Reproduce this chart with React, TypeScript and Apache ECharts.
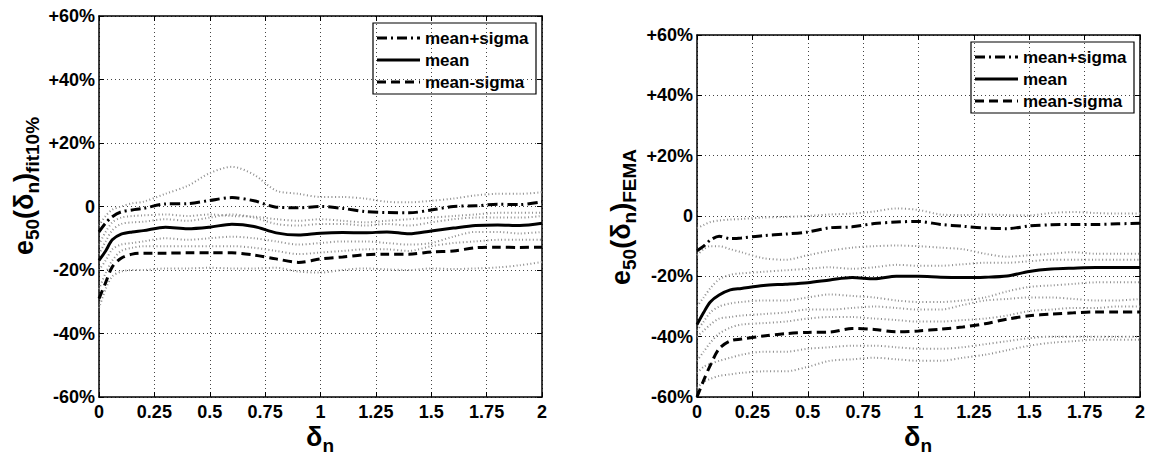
import React, { useEffect, useRef } from "react";
import * as echarts from "echarts";

const X = [0, 0.03, 0.06, 0.1, 0.15, 0.2, 0.3, 0.4, 0.5, 0.6, 0.7, 0.8, 0.9, 1.0, 1.1, 1.2, 1.3, 1.4, 1.5, 1.6, 1.7, 1.8, 1.9, 2.0];

// Left chart: e50(δn) fit10%
const fitMeanPlus = [-8, -5.2, -3.2, -1.7, -1.1, -0.6, 0.8, 0.9, 1.9, 2.8, 1.8, -0.2, -0.4, 0, -0.6, -1.6, -1.9, -2.0, -1.1, 0, 0.2, 0.7, 0.6, 1.5];
const fitMean = [-17, -14, -10.5, -8.7, -8.0, -7.6, -6.5, -7.0, -6.5, -5.6, -6.3, -8.3, -9.0, -8.4, -8.2, -8.3, -8.0, -8.6, -7.7, -6.8, -6.0, -5.8, -6.0, -5.3];
const fitMeanMinus = [-29, -24, -19, -16.3, -15, -14.7, -14.7, -14.6, -14.6, -14.6, -15.3, -16.5, -17.6, -16.5, -15.9, -15.2, -15.0, -15.0, -14.3, -14.0, -13.0, -12.8, -12.9, -12.8];
const fitGray1 = [-6, -3, -1, 0, 1, 1.5, 4, 6.5, 10.5, 12.5, 10, 5, 4, 3, 3, 2.5, 1.5, 1.3, 1.8, 2.5, 3.5, 4, 4, 4.5];
const fitGray2 = [-12, -8, -5, -3.5, -3, -2.8, -2.5, -3, -2.5, -3, -3.2, -4, -4.5, -4, -4.5, -5, -4.5, -4, -3.5, -3, -2.5, -2, -2, -2];
const fitGray3 = [-15, -11, -7.5, -5.5, -5, -4.8, -4, -4.5, -3.5, -2.5, -3.5, -5.5, -6, -5.5, -5.5, -6, -5.5, -6, -5, -4, -3.5, -3.5, -3.5, -3];
const fitGray4 = [-20, -17, -13.5, -12, -11.5, -11, -10, -10.5, -10, -9.5, -10, -11, -12, -11.5, -11, -11, -11.5, -12, -11.5, -9.5, -8, -8, -8.5, -8];
const fitGray5 = [-26, -21, -17, -14, -13, -12.5, -12.5, -12.5, -12.5, -12.5, -13, -14, -15, -14.5, -14, -13.5, -13.5, -14, -12.5, -11.5, -11, -10.5, -10.5, -10.5];
const fitGray6 = [-32, -26, -22, -20.5, -20, -20, -19.5, -19.5, -19.3, -19.5, -19.5, -19.3, -20.5, -20.8, -20, -19.5, -19.8, -20, -19.5, -19.7, -19.5, -19.2, -18.5, -17.5];

// Right chart: e50(δn) FEMA
const femaMeanPlus = [-11.5, -10, -8, -6.7, -7.5, -7.3, -6.5, -6.0, -5.3, -3.9, -3.6, -2.5, -2.0, -1.8, -2.8, -3.4, -4.0, -4.2, -3.3, -2.9, -2.8, -2.8, -2.6, -2.4];
const femaMean = [-36, -32, -28.5, -26.2, -24.5, -24, -23, -22.6, -22.1, -21.2, -20.4, -20.8, -20.0, -20.0, -20.3, -20.4, -20.3, -19.9, -18.4, -17.6, -17.3, -17.1, -17.1, -17.1];
const femaMeanMinus = [-60, -54.5, -49.5, -44, -41.4, -40.8, -39.8, -39.0, -38.6, -38.5, -37.3, -37.6, -38.4, -38.1, -37.5, -36.8, -35.7, -34.2, -33.1, -32.5, -32.1, -31.8, -31.8, -31.8];
const femaGray1 = [-4, -3, -2, -1.5, -1.2, -1, -0.5, -0.3, 0, 0.5, 0.8, 1.5, 2.5, 2, 0.5, 0.3, 0.5, 0.3, 0.2, 1, 1.3, 1, 0.8, 0.8];
const femaGray2 = [-13, -11, -10, -10, -11, -12, -14, -14.5, -13, -11.5, -10.5, -10, -9.8, -10, -10.5, -11, -12.5, -13.5, -13, -12.5, -12, -12.5, -12.5, -12.5];
const femaGray3 = [-30, -27, -24, -21, -19.5, -19, -18.5, -18, -17.5, -17, -17.5, -17, -16.2, -16.5, -16.5, -16, -15.5, -15.5, -15, -14.5, -14.5, -14.5, -14.5, -14.5];
const femaGray4 = [-38, -35, -32, -30, -29, -28.5, -28, -28, -27, -26, -26.5, -27, -28, -28.5, -28.5, -28, -27, -25, -23.5, -23, -22.5, -22, -22, -22];
const femaGray5 = [-40, -38, -36, -34, -33.5, -33, -32.5, -32, -31, -31, -30.5, -30, -30.5, -31, -31, -29.5, -28, -27.5, -27, -27, -27.5, -28, -28, -27.5];
const femaGray6 = [-52, -50, -49, -48, -47, -46, -45, -45, -44, -43.5, -43, -43, -43.5, -44, -44, -43.5, -42.5, -41.5, -40.5, -40, -40, -40, -40, -40];
const femaGray7 = [-57, -55, -54, -53, -52.5, -52, -51.5, -51.5, -50, -48, -47.5, -47, -47.5, -48, -48, -47, -46, -44.5, -43, -42, -41.5, -41, -41, -41];
const femaGray8 = [-48, -45, -42, -39, -37, -36, -35.5, -35, -34, -33.5, -33.5, -34, -34.5, -35, -35, -34.5, -34, -33, -31.5, -31, -30.5, -30.5, -30, -30];

const NAMES = ["mean+sigma", "mean", "mean-sigma"];
const FONT = "'Liberation Sans', Arial, Helvetica, sans-serif";
const DASHES: any[] = [[10, 4, 2, 4], "solid", [9, 5]];

const pair = (ys: number[]) => X.map((x, i) => [x, ys[i]]);

export default function App() {
  const ref = useRef<HTMLDivElement>(null);
  useEffect(() => {
    if (!ref.current) return;
    const chart = echarts.init(ref.current, undefined, { renderer: "svg" });
    const grids = [
      { left: 99, top: 16, width: 443, height: 381 },
      { left: 697, top: 35, width: 443, height: 362 },
    ];
    const yFmt = (v: number) => (v > 0 ? "+" + v + "%" : v === 0 ? "0" : v + "%");
    const axLine = { show: true, onZero: false, lineStyle: { color: "#000", width: 1.5 } };
    const axTick = { show: true, inside: true, length: 5, lineStyle: { color: "#000" } };
    const split = { show: true, lineStyle: { color: "#444", type: [1, 3], width: 1 } };
    const lbl = { color: "#000", fontSize: 18, fontWeight: "bold", fontFamily: FONT };
    const xAxes: any[] = [];
    const yAxes: any[] = [];
    grids.forEach((_, gi) => {
      xAxes.push({ type: "value", gridIndex: gi, min: 0, max: 2, interval: 0.25, position: "bottom",
        axisLine: axLine, axisTick: axTick, axisLabel: { ...lbl, margin: 8, lineHeight: 14 }, splitLine: split });
      xAxes.push({ type: "value", gridIndex: gi, min: 0, max: 2, interval: 0.25, position: "top",
        axisLine: axLine, axisTick: axTick, axisLabel: { show: false }, splitLine: { show: false } });
      yAxes.push({ type: "value", gridIndex: gi, min: -60, max: 60, interval: 20, position: "left",
        axisLine: axLine, axisTick: axTick, axisLabel: { ...lbl, margin: 4, formatter: yFmt }, splitLine: split });
      yAxes.push({ type: "value", gridIndex: gi, min: -60, max: 60, interval: 20, position: "right",
        axisLine: axLine, axisTick: axTick, axisLabel: { show: false }, splitLine: { show: false } });
    });

    const gray = (gi: number, ys: number[]) => ({
      type: "line", xAxisIndex: gi * 2, yAxisIndex: gi * 2, data: pair(ys), showSymbol: false, symbol: "none",
      smooth: 0.3, silent: true, z: 1,
      lineStyle: { color: "#8e8e8e", width: 2, type: [1, 2.5] },
    });
    const main = (gi: number, k: number, ys: number[]) => ({
      type: "line", name: NAMES[k], xAxisIndex: gi * 2, yAxisIndex: gi * 2, data: pair(ys), showSymbol: false, symbol: "none",
      smooth: 0.3, z: 3, itemStyle: { color: "#000" },
      lineStyle: { color: "#000", width: 3, type: DASHES[k] },
    });

    const series: any[] = [
      ...[fitGray1, fitGray2, fitGray3, fitGray4, fitGray5, fitGray6].map((g) => gray(0, g)),
      main(0, 0, fitMeanPlus), main(0, 1, fitMean), main(0, 2, fitMeanMinus),
      ...[femaGray1, femaGray2, femaGray3, femaGray4, femaGray5, femaGray6, femaGray7, femaGray8].map((g) => gray(1, g)),
      main(1, 0, femaMeanPlus), main(1, 1, femaMean), main(1, 2, femaMeanMinus),
    ];

    const legendBox = (x: number, y: number) => ({
      type: "group", x, y, z: 20,
      children: [
        { type: "rect", shape: { x: 0, y: 0, width: 163, height: 71 }, style: { fill: "#fff", stroke: "#000", lineWidth: 1.2 } },
        ...NAMES.flatMap((n, i) => [
          { type: "line", shape: { x1: 4, y1: 15 + i * 22, x2: 47, y2: 15 + i * 22 },
            style: { stroke: "#000", lineWidth: 3, lineDash: DASHES[i] === "solid" ? null : DASHES[i] } },
          { type: "text", x: 52, y: 15 + i * 22,
            style: { text: n, fill: "#000", font: `bold 17px ${FONT}`, textAlign: "left", textVerticalAlign: "middle" } },
        ]),
      ],
    });

    const rich = {
      m: { fontSize: 27, fontWeight: "bold", fontFamily: FONT, color: "#000", verticalAlign: "bottom", padding: [0, 0, 5, 0] },
      s: { fontSize: 19, fontWeight: "bold", fontFamily: FONT, color: "#000", verticalAlign: "bottom" },
    };
    const ttl = (x: number, y: number, text: string, rot: number, va = "middle") => ({
      type: "text", x, y, rotation: rot, z: 10,
      style: { text, rich, textAlign: "center", textVerticalAlign: va, fill: "#000" },
    });

    chart.setOption({
      animation: false,
      backgroundColor: "#fff",
      grid: grids.map((g) => ({ ...g, show: false, containLabel: false })),
      xAxis: xAxes,
      yAxis: yAxes,
      series,
      graphic: [
        legendBox(373, 23),
        legendBox(971, 42),
        ttl(26, 186, "{m|e}{s|50}{m|(δ}{s|n}{m|)}{s|fit10%}", Math.PI / 2),
        ttl(623, 217, "{m|e}{s|50}{m|(δ}{s|n}{m|)}{s|FEMA}", Math.PI / 2),
        ttl(320, 423, "{m|δ}{s|n}", 0, "top"),
        ttl(918, 423, "{m|δ}{s|n}", 0, "top"),
      ],
    });
    return () => chart.dispose();
  }, []);
  return <div ref={ref} style={{ position: "fixed", left: 0, top: 0, width: 1153, height: 457, background: "#fff" }} />;
}
